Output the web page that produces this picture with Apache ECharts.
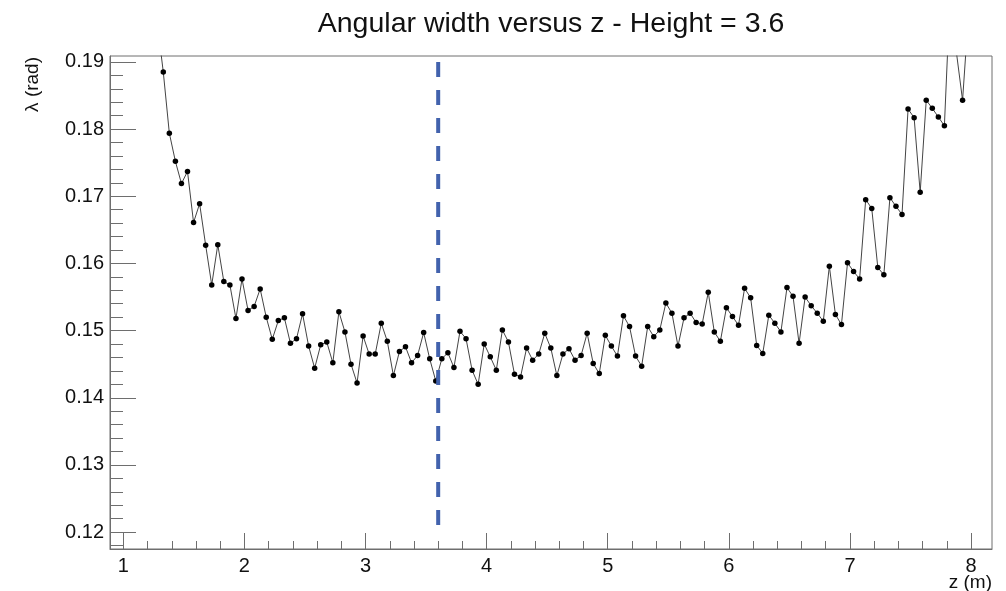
<!DOCTYPE html>
<html>
<head>
<meta charset="utf-8">
<script src="https://cdn.jsdelivr.net/npm/echarts@6/dist/echarts.min.js"></script>
<style>
html,body{margin:0;padding:0;background:#fff;}
#chart{width:1006px;height:591px;}
</style>
</head>
<body>
<div id="chart"></div>
<script>
// ---- data ----
const zValues = [
  1.28,1.33,1.38,1.43,1.48,1.53,1.58,1.63,1.68,1.73,
  1.78,1.83,1.88,1.93,1.98,2.03,2.08,2.13,2.18,2.23,
  2.28,2.33,2.38,2.43,2.48,2.53,2.58,2.63,2.68,2.73,
  2.78,2.83,2.88,2.93,2.98,3.03,3.08,3.13,3.18,3.23,
  3.28,3.33,3.38,3.43,3.48,3.53,3.58,3.63,3.68,3.73,
  3.78,3.83,3.88,3.93,3.98,4.03,4.08,4.13,4.18,4.23,
  4.28,4.33,4.38,4.43,4.48,4.53,4.58,4.63,4.68,4.73,
  4.78,4.83,4.88,4.93,4.98,5.03,5.08,5.13,5.18,5.23,
  5.28,5.33,5.38,5.43,5.48,5.53,5.58,5.63,5.68,5.73,
  5.78,5.83,5.88,5.93,5.98,6.03,6.08,6.13,6.18,6.23,
  6.28,6.33,6.38,6.43,6.48,6.53,6.58,6.63,6.68,6.73,
  6.78,6.83,6.88,6.93,6.98,7.03,7.08,7.13,7.18,7.23,
  7.28,7.33,7.38,7.43,7.48,7.53,7.58,7.63,7.68,7.73,
  7.78,7.83,7.88,7.93,7.98
];
const lambdaValues = [
  0.1959,0.1885,0.1794,0.1752,0.1719,0.1737,0.1661,0.1689,0.1627,0.1568,
  0.1628,0.1573,0.1568,0.1518,0.1577,0.1530,0.1536,0.1562,0.1520,0.1487,
  0.1515,0.1519,0.1481,0.1488,0.1525,0.1477,0.1444,0.1479,0.1483,0.1452,
  0.1528,0.1498,0.1450,0.1422,0.1492,0.1465,0.1465,0.1511,0.1484,0.1433,
  0.1469,0.1476,0.1452,0.1463,0.1497,0.1458,0.1425,0.1458,0.1467,0.1445,
  0.1499,0.1488,0.1441,0.1420,0.1480,0.1461,0.1441,0.1501,0.1483,0.1435,
  0.1431,0.1474,0.1456,0.1465,0.1496,0.1474,0.1433,0.1465,0.1473,0.1456,
  0.1463,0.1496,0.1451,0.1436,0.1493,0.1477,0.1462,0.1522,0.1506,0.1462,
  0.1447,0.1506,0.1491,0.1501,0.1541,0.1526,0.1477,0.1519,0.1526,0.1512,
  0.1510,0.1557,0.1498,0.1484,0.1534,0.1521,0.1508,0.1563,0.1549,0.1478,
  0.1466,0.1523,0.1511,0.1498,0.1564,0.1551,0.1481,0.1550,0.1537,0.1526,
  0.1514,0.1596,0.1524,0.1509,0.1601,0.1588,0.1577,0.1695,0.1682,0.1594,
  0.1583,0.1698,0.1685,0.1673,0.1830,0.1817,0.1706,0.1843,0.1831,0.1818,
  0.1805,0.2014,0.1913,0.1843,0.1975
];
const xTickLabels = [1, 2, 3, 4, 5, 6, 7, 8];
const yTickLabels = [0.12, 0.13, 0.14, 0.15, 0.16, 0.17, 0.18, 0.19];
const heightValue = 3.6;
const markerSpan = [0.19, 0.12];
const titleText = 'Angular width versus z - Height = 3.6';
const xTitle = 'z (m)';
const yTitle = 'λ (rad)';

// ---- layout ----
const X_MIN = 0.89, X_MAX = 8.173;
const Y_MIN = 0.11748, Y_MAX = 0.19089;
const FONT = '"Liberation Sans", Arial, Helvetica, sans-serif';
const AX = '#6e6e6e';

function minorTicks(majors, n, lo, hi) {
  const step = majors[1] - majors[0];
  const d = step / n;
  const out = [];
  const start = majors[0] - step;
  const end = majors[majors.length - 1] + step;
  for (let m = start; m <= end + 1e-9; m += step) {
    for (let i = 1; i < n; i++) {
      const v = +(m + i * d).toFixed(6);
      if (v > lo && v < hi) out.push(v);
    }
  }
  return out;
}
const xMinor = minorTicks(xTickLabels, 5, X_MIN, X_MAX);
const yMinor = minorTicks(yTickLabels, 5, Y_MIN, Y_MAX);

const points = zValues.map((z, i) => [z, lambdaValues[i]]);

const chart = echarts.init(document.getElementById('chart'), null, {renderer: 'canvas'});
const baseX = {type: 'value', min: X_MIN, max: X_MAX, position: 'bottom', splitLine: {show: false}};
const baseY = {type: 'value', min: Y_MIN, max: Y_MAX, position: 'left', splitLine: {show: false}};

chart.setOption({
  animation: false,
  backgroundColor: '#ffffff',
  grid: {left: 110, top: 56, width: 882, height: 493, show: true, borderColor: AX, borderWidth: 1, containLabel: false},
  xAxis: [
    Object.assign({}, baseX, {
      axisLine: {show: true, lineStyle: {color: AX, width: 1}},
      axisTick: {show: true, inside: true, length: 16, customValues: xTickLabels, lineStyle: {color: AX, width: 1}},
      axisLabel: {show: true, customValues: xTickLabels, margin: 7, color: '#111', fontSize: 20, fontFamily: FONT,
        formatter: v => String(v)}
    }),
    Object.assign({}, baseX, {
      axisLine: {show: false},
      axisTick: {show: true, inside: true, length: 8, customValues: xMinor, lineStyle: {color: AX, width: 1}},
      axisLabel: {show: false}
    })
  ],
  yAxis: [
    Object.assign({}, baseY, {
      axisLine: {show: true, lineStyle: {color: AX, width: 1}},
      axisTick: {show: true, inside: true, length: 26, customValues: yTickLabels, lineStyle: {color: AX, width: 1}},
      axisLabel: {show: true, customValues: yTickLabels, margin: 6, color: '#111', fontSize: 20, fontFamily: FONT,
        formatter: v => v.toFixed(2)}
    }),
    Object.assign({}, baseY, {
      axisLine: {show: false},
      axisTick: {show: true, inside: true, length: 13, customValues: yMinor, lineStyle: {color: AX, width: 1}},
      axisLabel: {show: false}
    })
  ],
  series: [
    {
      type: 'line',
      xAxisIndex: 0, yAxisIndex: 0,
      data: points,
      clip: true,
      showSymbol: true,
      showAllSymbol: true,
      symbol: 'circle',
      symbolSize: 5.5,
      itemStyle: {color: '#000'},
      lineStyle: {color: '#444', width: 1},
      z: 3
    },
    {
      type: 'line',
      xAxisIndex: 0, yAxisIndex: 0,
      data: [[heightValue, markerSpan[0]], [heightValue, markerSpan[1]]],
      symbol: 'none',
      lineStyle: {color: '#4262ad', width: 4, type: [15, 13]},
      z: 4
    }
  ],
  graphic: [
    {type: 'text', x: 551, y: 24, style: {text: titleText, font: '28.5px ' + FONT, fill: '#111', textAlign: 'center', textVerticalAlign: 'middle'}},
    {type: 'text', x: 992, y: 583, style: {text: xTitle, font: '19px ' + FONT, fill: '#111', textAlign: 'right', textVerticalAlign: 'middle'}},
    {type: 'text', x: 33, y: 57, rotation: Math.PI / 2, style: {text: yTitle, font: '19px ' + FONT, fill: '#111', textAlign: 'right', textVerticalAlign: 'middle'}}
  ]
});
</script>
</body>
</html>
